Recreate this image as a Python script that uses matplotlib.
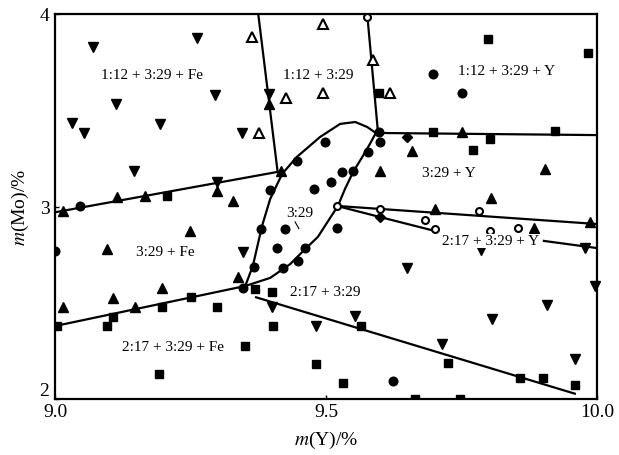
import matplotlib
matplotlib.use("Agg")
import matplotlib.pyplot as plt

plt.rcParams['font.family'] = ['Liberation Serif', 'DejaVu Serif']
plt.rcParams['mathtext.fontset'] = 'stix'

# ---- data (x = m(Y)/%, y = m(Mo)/%) ----
inv_tri_x = [9.070, 9.262, 9.295, 9.113, 9.031, 9.054, 9.194, 9.345, 9.146, 9.395, 9.299,
             9.347, 9.400, 9.482, 9.554, 9.649, 9.714, 9.806, 9.908, 9.959, 9.996, 9.978, 9.786]
inv_tri_y = [3.829, 3.875, 3.579, 3.532, 3.434, 3.382, 3.429, 3.382, 3.184, 3.584, 3.127,
             2.764, 2.478, 2.379, 2.431, 2.681, 2.286, 2.416, 2.488, 2.208, 2.587, 2.784, 2.774]

tri_x = [9.328, 9.114, 9.166, 9.015, 9.249, 9.096, 9.197, 9.107, 9.148, 9.015, 9.338,
         9.659, 9.600, 9.904, 9.804, 9.751, 9.701, 9.884, 9.987, 9.395, 9.299, 9.417]
tri_y = [3.029, 3.049, 3.055, 2.977, 2.873, 2.779, 2.577, 2.525, 2.478, 2.478, 2.634,
         3.288, 3.184, 3.195, 3.044, 3.387, 2.987, 2.888, 2.919, 3.532, 3.081, 3.184]

open_tri_x = [9.363, 9.426, 9.376, 9.494, 9.587, 9.494, 9.618]
open_tri_y = [3.881, 3.564, 3.382, 3.948, 3.761, 3.590, 3.590]

square_x = [9.799, 9.983, 9.598, 9.697, 9.771, 9.803, 9.923, 9.207, 9.004, 9.096, 9.107,
            9.197, 9.251, 9.299, 9.351, 9.192, 9.400, 9.369, 9.402, 9.482, 9.531, 9.565,
            9.725, 9.858, 9.900, 9.959, 9.664, 9.747]
square_y = [3.870, 3.797, 3.590, 3.387, 3.294, 3.351, 3.392, 3.055, 2.379, 2.379, 2.426,
            2.478, 2.530, 2.478, 2.275, 2.130, 2.556, 2.571, 2.379, 2.182, 2.083, 2.379,
            2.187, 2.109, 2.109, 2.073, 2.000, 2.000]

circle_x = [9.697, 9.751, 9.498, 9.446, 9.530, 9.550, 9.509, 9.478, 9.397, 9.424, 9.520,
            9.410, 9.461, 9.380, 9.600, 9.578, 9.367, 9.421, 9.448, 9.347, 9.046, 9.624,
            9.598, 9.000]
circle_y = [3.688, 3.590, 3.335, 3.236, 3.179, 3.184, 3.127, 3.091, 3.086, 2.883, 2.888,
            2.784, 2.784, 2.883, 3.335, 3.283, 2.686, 2.681, 2.717, 2.577, 3.003, 2.094,
            3.387, 2.769]

open_circle_x = [9.576, 9.520, 9.600, 9.782, 9.683, 9.701, 9.803, 9.854]
open_circle_y = [3.984, 3.003, 2.987, 2.977, 2.930, 2.883, 2.873, 2.888]

diamond_x = [9.600, 9.649]
diamond_y = [2.945, 3.361]

# phase boundaries
line_a_x = [9.375, 9.411]; line_a_y = [4.0, 3.174]
line_b_x = [9.0, 9.419];   line_b_y = [2.97, 3.184]
line_c_x = [9.576, 9.596]; line_c_y = [4.0, 3.382]
line_d_x = [9.596, 10.0];  line_d_y = [3.382, 3.371]
line_e_x = [9.0, 9.351];   line_e_y = [2.379, 2.587]
line_f_x = [9.369, 9.961]; line_f_y = [2.530, 2.026]
line_g_x = [9.520, 10.0];  line_g_y = [3.003, 2.909]
line_h1_x = [9.520, 9.600, 9.705]; line_h1_y = [3.003, 2.945, 2.870]
line_h2_x = [9.900, 10.0];         line_h2_y = [2.822, 2.784]
loop_x = [9.351, 9.365, 9.382, 9.397, 9.419, 9.446, 9.489, 9.526, 9.554, 9.576, 9.592,
          9.581, 9.568, 9.550, 9.535, 9.522, 9.504, 9.485, 9.458, 9.434, 9.397, 9.351]
loop_y = [2.587, 2.691, 2.899, 3.039, 3.169, 3.257, 3.361, 3.429, 3.439, 3.413, 3.382,
          3.325, 3.262, 3.179, 3.091, 3.003, 2.925, 2.842, 2.769, 2.701, 2.629, 2.587]
leader_x = [9.443, 9.450]; leader_y = [2.920, 2.885]

labels = ["1:12 + 3:29 + Fe", "1:12 + 3:29", "1:12 + 3:29 + Y", "3:29 + Y", "3:29",
          "3:29 + Fe", "2:17 + 3:29", "2:17 + 3:29 + Fe", "2:17 + 3:29 + Y"]
label_x = [9.179, 9.485, 9.834, 9.727, 9.452, 9.203, 9.498, 9.218, 9.803]
label_y = [3.688, 3.688, 3.704, 3.179, 2.971, 2.764, 2.561, 2.275, 2.821]

xticks = [9.0, 9.5, 10.0]; xtick_labels = ["9.0", "9.5", "10.0"]
yticks = [2, 3, 4]; ytick_labels = ["2", "3", "4"]

# ---- figure ----
fig = plt.figure(figsize=(6.19, 4.56), dpi=100)
ax = fig.add_axes([55/619, 1-400/456, 542/619, 385/456])

lw = 1.6
for xs, ys in [(line_a_x, line_a_y), (line_b_x, line_b_y), (line_c_x, line_c_y),
               (line_d_x, line_d_y), (line_e_x, line_e_y), (line_f_x, line_f_y),
               (line_g_x, line_g_y), (line_h1_x, line_h1_y), (line_h2_x, line_h2_y),
               (loop_x, loop_y)]:
    ax.plot(xs, ys, color='black', lw=lw, solid_capstyle='butt', zorder=2)
ax.plot(leader_x, leader_y, color='black', lw=0.8, zorder=2)

ms = 6.5
ax.plot(inv_tri_x, inv_tri_y, 'v', color='black', ms=ms, ls='none', zorder=3, clip_on=False)
ax.plot(tri_x, tri_y, '^', color='black', ms=ms, ls='none', zorder=3, clip_on=False)
ax.plot(open_tri_x, open_tri_y, '^', mfc='white', mec='black', mew=1.5, ms=ms, ls='none', zorder=3)
ax.plot(square_x, square_y, 's', color='black', ms=5.8, ls='none', zorder=3)
ax.plot(circle_x, circle_y, 'o', color='black', ms=6.2, ls='none', zorder=3)
ax.plot(open_circle_x, open_circle_y, 'o', mfc='white', mec='black', mew=1.5, ms=5, ls='none', zorder=4, clip_on=False)
ax.plot(diamond_x, diamond_y, 'D', color='black', ms=5, ls='none', zorder=3)

for t, x, y in zip(labels, label_x, label_y):
    ax.text(x, y, t, ha='center', va='center', fontsize=11, zorder=5,
            bbox=dict(facecolor='white', edgecolor='none', pad=0.5) if t == "2:17 + 3:29 + Y" else None)

ax.set_xlim(9.0, 10.0)
ax.set_ylim(2.0, 4.0)
ax.set_xticks(xticks)
ax.set_xticklabels(xtick_labels, fontsize=14)
ax.set_yticks(yticks)
ax.set_yticklabels(ytick_labels, fontsize=14)
ax.tick_params(direction='in', length=3, width=1, pad=4)
ax.tick_params(axis='x', pad=3)
ax.get_yticklabels()[0].set_verticalalignment('bottom')
for s in ax.spines.values():
    s.set_linewidth(1.6)

ax.set_xlabel(r"$m$(Y)/%", fontsize=14, labelpad=6)
ax.set_ylabel(r"$m$(Mo)/%", fontsize=14, labelpad=6)

fig.savefig("out.png", dpi=100)
